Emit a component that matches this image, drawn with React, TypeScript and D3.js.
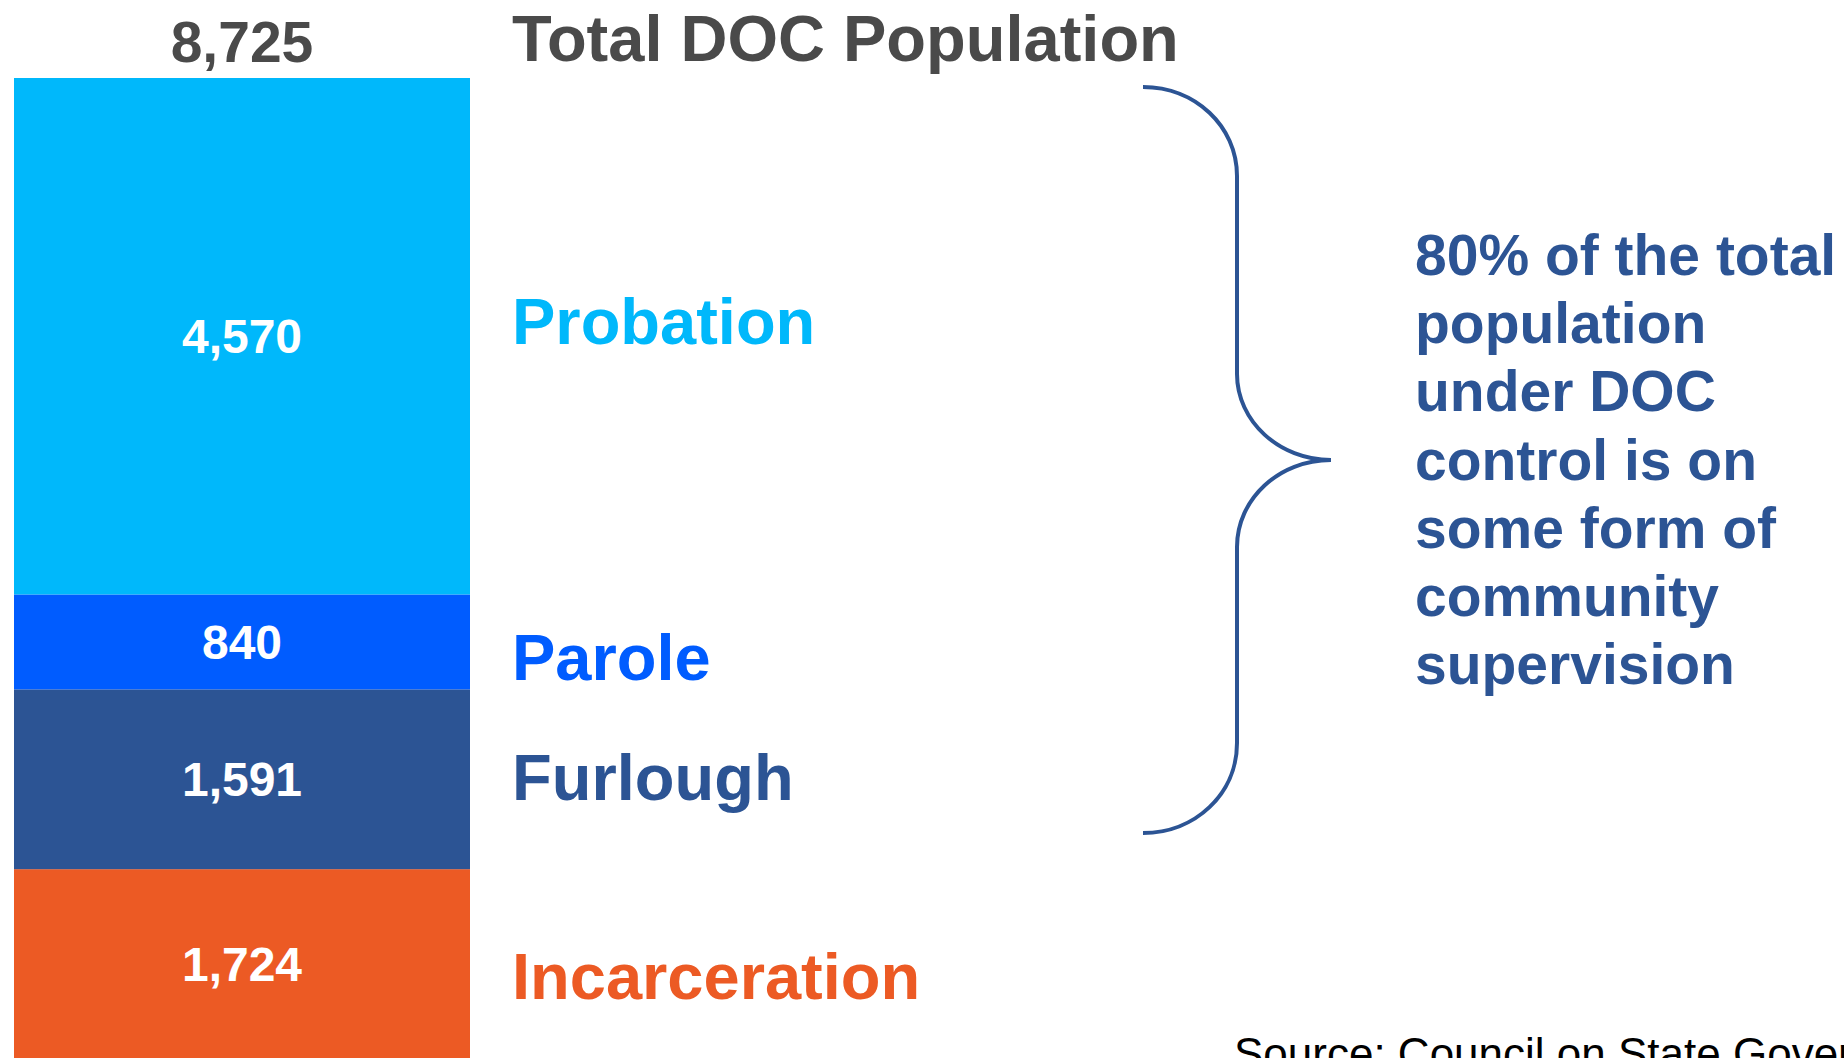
import React from 'react';
import * as d3 from 'd3';

// stacked from the bottom up
const categories = ['Incarceration', 'Furlough', 'Parole', 'Probation'];
const values = [1724, 1591, 840, 4570];
const colors = ['#EC5A24', '#2C5494', '#005CFF', '#00B8FB'];
const totalLabel = 'Total DOC Population';
const noteLines = [
  '80% of the total',
  'population',
  'under DOC',
  'control is on',
  'some form of',
  'community',
  'supervision',
];
const sourceText = 'Source: Council on State Governments Justice Center';

const width = 1844;
const height = 1058;
const font = '"Liberation Sans", Arial, Helvetica, sans-serif';

// small vertical nudges for the category names (they sit a bit below the segment middles)
const nameShift: Record<string, number> = {
  Probation: 8,
  Parole: 38,
  Furlough: 21,
  Incarceration: 35,
};

const App = () => {
  const total = d3.sum(values);
  const tops = d3.cumsum(values);

  const x = d3.scaleBand().domain(['DOC']).range([14, 470]).padding(0);
  const y = d3.scaleLinear().domain([0, total]).range([1064, 78]);

  const fmt = d3.format(',');
  const bx = x('DOC') as number;
  const bw = x.bandwidth();
  const cx = bx + bw / 2;

  const segs = categories.map((c, i) => {
    const y0 = y(tops[i] - values[i]);
    const y1 = y(tops[i]);
    const visMid = (y1 + Math.min(y0, height)) / 2;
    return { c, v: values[i], color: colors[i], y0, y1, visMid };
  });

  // curly brace spanning the community-supervision segments
  const bt = 87, bb = 833, bl = 1143, bs = 1237, tip = 1331, mid = 460;
  const brace = d3.path();
  brace.moveTo(bl, bt);
  brace.bezierCurveTo(1195, bt, bs, 126, bs, 176);
  brace.lineTo(bs, 374);
  brace.bezierCurveTo(bs, 421, 1279, mid, tip, mid);
  brace.bezierCurveTo(1279, mid, bs, 499, bs, 547);
  brace.lineTo(bs, 743);
  brace.bezierCurveTo(bs, 794, 1195, bb, bl, bb);

  return (
    <svg
      width={width}
      height={height}
      style={{ position: 'absolute', left: 0, top: 0, background: '#fff' }}
    >
      {segs.map((s) => (
        <rect key={s.c} x={bx} y={s.y1} width={bw} height={s.y0 - s.y1} fill={s.color} />
      ))}
      {segs.map((s) => (
        <text
          key={'v' + s.c}
          x={cx}
          y={s.visMid + 17}
          textAnchor="middle"
          fill="#fff"
          fontFamily={font}
          fontWeight="bold"
          fontSize={48}
        >
          {fmt(s.v)}
        </text>
      ))}
      {segs.map((s) => (
        <text
          key={'n' + s.c}
          x={512}
          y={s.visMid + nameShift[s.c]}
          fill={s.color}
          fontFamily={font}
          fontWeight="bold"
          fontSize={65}
        >
          {s.c}
        </text>
      ))}

      <text x={cx} y={62} textAnchor="middle" fill="#4a4a4a" fontFamily={font} fontWeight="bold" fontSize={57}>
        {fmt(total)}
      </text>
      <text x={512} y={61} fill="#4a4a4a" fontFamily={font} fontWeight="bold" fontSize={65}>
        {totalLabel}
      </text>

      <path d={brace.toString()} fill="none" stroke="#2C5494" strokeWidth={4} />

      {noteLines.map((t, i) => (
        <text
          key={t}
          x={1415}
          y={275 + i * 68.2}
          fill="#2C5494"
          fontFamily={font}
          fontWeight="bold"
          fontSize={57}
        >
          {t}
        </text>
      ))}

      <text x={1234} y={1069} fill="#000" fontFamily={font} fontSize={44}>
        {sourceText}
      </text>
    </svg>
  );
};

export default App;
